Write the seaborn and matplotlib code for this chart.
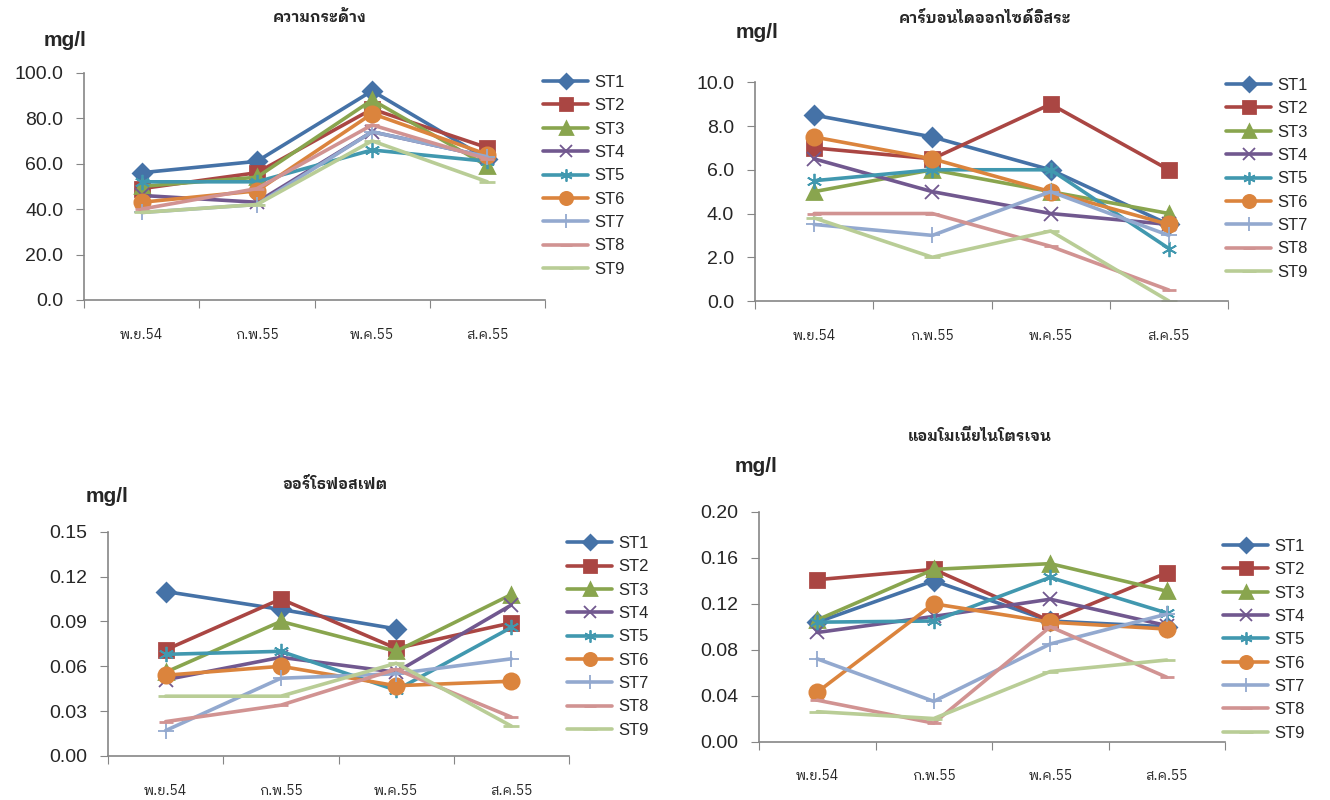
import numpy as np
import pandas as pd
import matplotlib
matplotlib.use("Agg")
import matplotlib.pyplot as plt
import seaborn as sns

months = ["พ.ย.54", "ก.พ.55", "พ.ค.55", "ส.ค.55"]
stations = ["ST1", "ST2", "ST3", "ST4", "ST5", "ST6", "ST7", "ST8", "ST9"]

hardness = [
    [56, 61, 92, 62],
    [49, 56, 84, 67],
    [50, 54, 88, 59],
    [46, 43, 74, 63],
    [52, 52, 66, 61],
    [43, 48, 82, 64],
    [38.5, 42, 74, 63],
    [40, 49, 77, 62],
    [38.5, 42, 70, 52],
]
free_co2 = [
    [8.5, 7.5, 6.0, 3.5],
    [7.0, 6.5, 9.0, 6.0],
    [5.0, 6.0, 5.0, 4.0],
    [6.5, 5.0, 4.0, 3.5],
    [5.5, 6.0, 6.0, 2.4],
    [7.5, 6.5, 5.0, 3.5],
    [3.5, 3.0, 5.0, 3.0],
    [4.0, 4.0, 2.5, 0.5],
    [3.8, 2.0, 3.2, 0.0],
]
orthophosphate = [
    [0.110, 0.098, 0.085, np.nan],
    [0.071, 0.105, 0.072, 0.089],
    [0.056, 0.090, 0.070, 0.108],
    [0.051, 0.066, 0.056, 0.101],
    [0.068, 0.070, 0.044, 0.086],
    [0.054, 0.060, 0.047, 0.050],
    [0.017, 0.052, 0.055, 0.065],
    [0.023, 0.034, 0.058, 0.026],
    [0.040, 0.040, 0.062, 0.020],
]
ammonia = [
    [0.104, 0.140, 0.105, 0.100],
    [0.141, 0.150, 0.105, 0.147],
    [0.106, 0.150, 0.155, 0.131],
    [0.095, 0.109, 0.124, 0.101],
    [0.104, 0.105, 0.143, 0.112],
    [0.043, 0.120, 0.104, 0.098],
    [0.072, 0.035, 0.085, 0.111],
    [0.036, 0.016, 0.100, 0.056],
    [0.026, 0.020, 0.061, 0.071],
]

colors = ["#4572A7", "#AA4643", "#89A54E", "#71588F", "#4198AF",
          "#DB843D", "#93A9CF", "#D19392", "#B9CD96"]
markers = ["D", "s", "^", "x", (6, 2, 0), "o", "+", "_", "_"]
msizes = [9, 10, 10, 10, 11, 11, 12, 10, 12]

sns.set_style("white")
plt.rcParams["font.family"] = ["Liberation Sans", "Noto Sans Thai", "DejaVu Sans"]
thai = ["IBM Plex Sans Thai Looped", "Noto Sans Thai", "DejaVu Sans"]

W, H = 1330, 800
fig = plt.figure(figsize=(W / 100, H / 100), dpi=100)


def box(x0, x1, ytop, ybot):
    return [x0 / W, 1 - ybot / H, (x1 - x0) / W, (ybot - ytop) / H]


panels = [
    dict(data=hardness, title="ความกระด้าง", box=box(84, 545, 72.7, 300),
         ymax=100, step=20, fmt="{:.1f}", title_xy=(320, 18), unit_xy=(65, 40),
         leg_y=82),
    dict(data=free_co2, title="คาร์บอนไดออกไซด์อิสระ", box=box(755, 1228, 82.3, 301),
         ymax=10, step=2, fmt="{:.1f}", title_xy=(985, 18), unit_xy=(757, 33),
         leg_y=85),
    dict(data=orthophosphate, title="ออร์โธฟอสเฟต", box=box(108, 569, 531.7, 756),
         ymax=0.15, step=0.03, fmt="{:.2f}", title_xy=(335, 484), unit_xy=(107, 496),
         leg_y=543),
    dict(data=ammonia, title="แอมโมเนียไนโตรเจน", box=box(759, 1225, 512, 741.5),
         ymax=0.20, step=0.04, fmt="{:.2f}", title_xy=(980, 436), unit_xy=(756, 466),
         leg_y=546),
]

spine_c = "#868686"
xs = np.arange(len(months))

for p in panels:
    ax = fig.add_axes(p["box"])
    for i, st in enumerate(stations):
        sns.lineplot(x=xs, y=p["data"][i], ax=ax, color=colors[i], lw=2.6,
                     marker=markers[i], markersize=msizes[i],
                     markeredgecolor=colors[i], markeredgewidth=1.3 if i in (3, 4, 6) else 2,
                     label=st, legend=False)
    ax.set_xlim(-0.5, 3.5)
    ax.set_ylim(0, p["ymax"])
    yt = np.arange(0, p["ymax"] + p["step"] / 2, p["step"])
    ax.set_yticks(yt)
    ax.set_yticklabels([p["fmt"].format(v) for v in yt], fontsize=14)
    ax.set_xticks(np.arange(-0.5, 4, 1))
    ax.set_xticklabels([])
    ax.set_xticks(xs, minor=True)
    ax.set_xticklabels(months, minor=True, fontsize=10, family=thai)
    ax.tick_params(axis="x", which="major", length=6, color=spine_c, direction="out", bottom=True)
    ax.tick_params(axis="x", which="minor", length=0, pad=20)
    ax.tick_params(axis="y", length=6, color=spine_c, direction="out", left=True, pad=9)
    sns.despine(ax=ax)
    for s in ("left", "bottom"):
        ax.spines[s].set_color(spine_c)
        ax.spines[s].set_linewidth(1.2)
    ax.set_xlabel("")
    ax.set_ylabel("")
    bb = p["box"]
    x_leg = (bb[0] + bb[2]) * W
    top = p["leg_y"] - 7
    leg = ax.legend(loc="upper left", bbox_to_anchor=((x_leg - 2) / W, 1 - top / H),
                    bbox_transform=fig.transFigure, frameon=False, fontsize=12,
                    handlelength=2.7, handletextpad=0.35, borderaxespad=0,
                    borderpad=0, labelspacing=0.5, markerscale=0.8)
    for h in leg.legend_handles:
        h.set_linewidth(2.6)
    fig.text(p["title_xy"][0] / W, 1 - p["title_xy"][1] / H, p["title"],
             ha="center", va="center", fontsize=11, fontweight="bold", family=thai)
    fig.text(p["unit_xy"][0] / W, 1 - p["unit_xy"][1] / H, "mg/l",
             ha="center", va="center", fontsize=15, fontweight="bold")

fig.savefig("out.png", dpi=100, facecolor="white")
